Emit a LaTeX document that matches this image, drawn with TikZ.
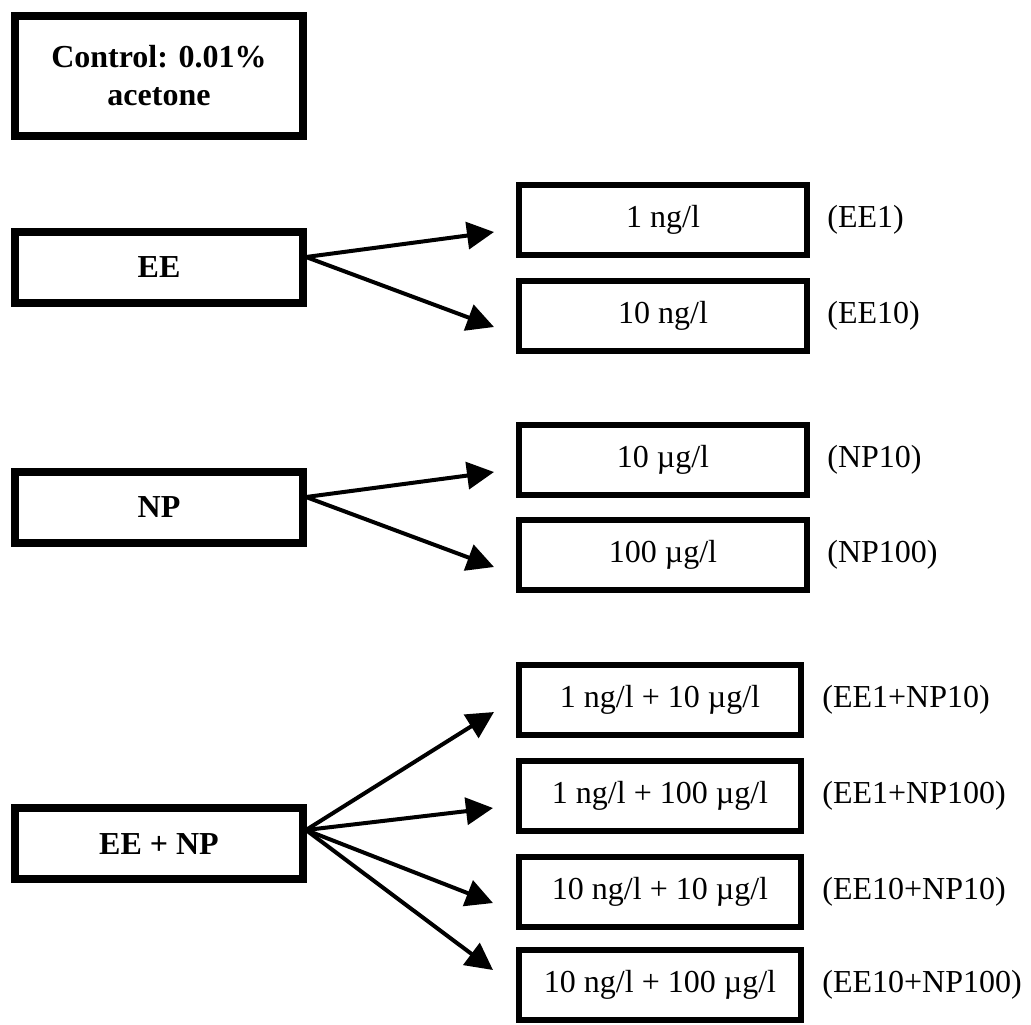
\documentclass[tikz,border=0pt]{standalone}
\usepackage{fontspec}
\setmainfont{Liberation Serif}
\usetikzlibrary{arrows.meta}

\begin{document}
\begin{tikzpicture}[x=0.5pt, y=-0.5pt,
    groupbox/.style={draw=black, line width=4pt, minimum width=144pt, minimum height=35.5pt, inner sep=0pt, font=\fontsize{16}{19}\selectfont\bfseries, align=center},
    dosebox/.style={draw=black, line width=3pt, minimum width=144pt, minimum height=35pt, inner sep=0pt, font=\fontsize{16}{19}\selectfont},
    codelabel/.style={anchor=west, inner sep=0pt, font=\fontsize{16}{19}\selectfont},
    dosearrow/.style={line width=2pt, -{Triangle[length=13.5pt, width=13.5pt]}}]
    % Units: 1 = one pixel of the 1031 x 1024 picture, y grows downwards
    \useasboundingbox (0,0) rectangle (1031,1024);

    % Treatment groups (left column)
    \node[groupbox, minimum height=60pt] (ctrl) at (159,76) {Control: 0.01\%\\acetone};
    \node[groupbox] (ee) at (159,267.5) {EE};
    \node[groupbox] (np) at (159,507.5) {NP};
    \node[groupbox] (eenp) at (159,843.5) {EE + NP};

    % Doses (right column)
    \node[dosebox] (ee1) at (663,220) {1 ng/l};
    \node[dosebox] (ee10) at (663,315.5) {10 ng/l};
    \node[dosebox] (np10) at (663,460) {10 µg/l};
    \node[dosebox] (np100) at (663,554.5) {100 µg/l};
    \node[dosebox, minimum width=141pt] (mix1) at (660,700) {1 ng/l + 10 µg/l};
    \node[dosebox, minimum width=141pt] (mix2) at (660,795.5) {1 ng/l + 100 µg/l};
    \node[dosebox, minimum width=141pt] (mix3) at (660,892) {10 ng/l + 10 µg/l};
    \node[dosebox, minimum width=141pt] (mix4) at (660,985) {10 ng/l + 100 µg/l};

    % Short codes
    \node[codelabel] (lee1) at (827,220) {(EE1)};
    \node[codelabel] (lee10) at (827,315.5) {(EE10)};
    \node[codelabel] (lnp10) at (827,460) {(NP10)};
    \node[codelabel] (lnp100) at (827,554.5) {(NP100)};
    \node[codelabel] (lmix1) at (822,700) {(EE1+NP10)};
    \node[codelabel] (lmix2) at (822,795.5) {(EE1+NP100)};
    \node[codelabel] (lmix3) at (822,892) {(EE10+NP10)};
    \node[codelabel] (lmix4) at (822,985) {(EE10+NP100)};

    % Arrow start points and tips
    \coordinate (ee-o) at (306,257);
    \coordinate (np-o) at (306,497);
    \coordinate (eenp-o) at (306,830);
    \coordinate (ee1-t) at (494,232);
    \coordinate (ee10-t) at (494,327);
    \coordinate (np10-t) at (494,472);
    \coordinate (np100-t) at (494,567);
    \coordinate (mix1-t) at (494,712);
    \coordinate (mix2-t) at (493,808);
    \coordinate (mix3-t) at (493,903);
    \coordinate (mix4-t) at (493,970);

    \foreach \src/\dst in {ee/ee1, ee/ee10, np/np10, np/np100, eenp/mix1, eenp/mix2, eenp/mix3, eenp/mix4}{
        \draw[dosearrow] (\src-o) -- (\dst-t);
    }
\end{tikzpicture}
\end{document}
